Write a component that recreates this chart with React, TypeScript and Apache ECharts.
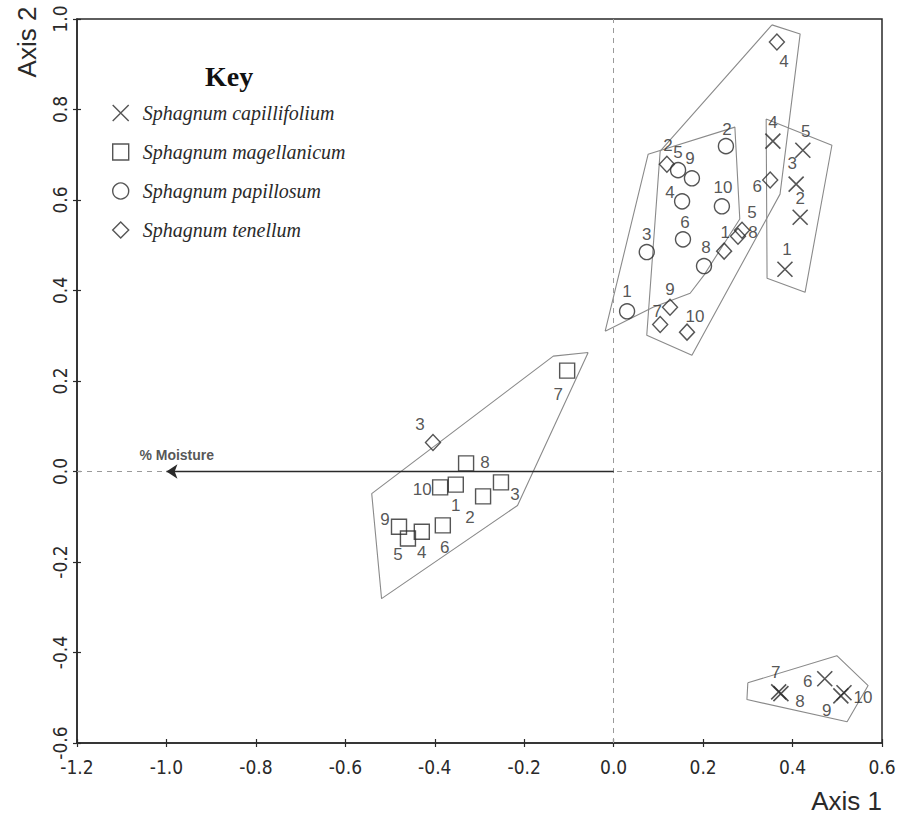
import React, { useEffect, useRef } from "react";
import * as echarts from "echarts";

// ---- Data ----
const xTicks = [-1.2, -1.0, -0.8, -0.6, -0.4, -0.2, 0.0, 0.2, 0.4, 0.6];
const yTicks = [-0.6, -0.4, -0.2, 0.0, 0.2, 0.4, 0.6, 0.8, 1.0];

const speciesNames = [
  "Sphagnum capillifolium",
  "Sphagnum magellanicum",
  "Sphagnum papillosum",
  "Sphagnum tenellum",
];

// Sphagnum capillifolium (×)
const capIds = [1, 2, 3, 4, 5, 6, 7, 8, 9, 10];
const capX = [0.383, 0.417, 0.408, 0.356, 0.423, 0.472, 0.369, 0.374, 0.508, 0.515];
const capY = [0.447, 0.562, 0.635, 0.73, 0.71, -0.458, -0.487, -0.491, -0.496, -0.489];

// Sphagnum magellanicum (□)
const magIds = [1, 2, 3, 4, 5, 6, 7, 8, 9, 10];
const magX = [-0.353, -0.292, -0.252, -0.429, -0.46, -0.382, -0.104, -0.33, -0.48, -0.388];
const magY = [-0.029, -0.055, -0.024, -0.133, -0.148, -0.119, 0.223, 0.018, -0.122, -0.035];

// Sphagnum papillosum (○)
const papIds = [1, 2, 3, 4, 5, 6, 8, 9, 10];
const papX = [0.03, 0.251, 0.074, 0.153, 0.144, 0.155, 0.202, 0.175, 0.242];
const papY = [0.354, 0.719, 0.485, 0.597, 0.666, 0.513, 0.454, 0.648, 0.586];

// Sphagnum tenellum (◇)
const tenIds = [1, 2, 3, 4, 5, 6, 7, 8, 9, 10];
const tenX = [0.247, 0.119, -0.404, 0.365, 0.287, 0.35, 0.104, 0.278, 0.126, 0.164];
const tenY = [0.487, 0.679, 0.064, 0.949, 0.533, 0.644, 0.325, 0.52, 0.363, 0.308];

// Hand-drawn group envelopes (vertices, data units)
const hullCapUpper = [[0.341, 0.779], [0.488, 0.721], [0.428, 0.396], [0.343, 0.427]];
const hullCapLower = [[0.3, -0.467], [0.499, -0.407], [0.569, -0.473], [0.522, -0.553], [0.298, -0.504]];
const hullMag = [[-0.057, 0.263], [-0.135, 0.255], [-0.541, -0.049], [-0.519, -0.281], [-0.215, -0.075]];
const hullPap = [[-0.019, 0.31], [0.077, 0.701], [0.271, 0.761], [0.282, 0.558], [0.202, 0.434], [0.171, 0.394], [0.088, 0.363]];
const hullTen = [[0.354, 0.987], [0.417, 0.967], [0.372, 0.613], [0.175, 0.257], [0.074, 0.301], [0.104, 0.708]];

// Moisture vector (from origin)
const moistureVector = [[0, 0], [-1.0, 0]];
const moistureLabel = "% Moisture";

// ---- Label placement (pixel offsets of the number labels) ----
const capLabelOffset = [[2, -20], [0, -19], [-4, -21], [0, -19], [3, -19], [-17, 3], [-3, -19], [19, 8], [-14, 15], [19, 5]];
const magLabelOffset = [[0, 21], [-13, 21], [14, 12], [0, 21], [-10, 16], [2, 22], [-9, 24], [19, -1], [-14, -7], [-18, 2]];
const papLabelOffset = [[0, -20], [1, -17], [0, -18], [-12, -9], [0, -18], [2, -17], [2, -19], [-2, -20], [1, -19]];
const tenLabelOffset = [[1, -19], [1, -19], [-13, -18], [7, 19], [10, -18], [-13, 6], [-3, -13], [15, -4], [0, -18], [8, -16]];

const INK = "#2a2a2a";
const HULL = "#8a8a8a";
const SANS = "'Liberation Sans', Arial, Helvetica, sans-serif";
const NARROW = "'Liberation Sans Narrow', 'DejaVu Sans Condensed', 'Liberation Sans', sans-serif";
const SERIF = "'Liberation Serif', 'Times New Roman', serif";

function pts(ids: number[], xs: number[], ys: number[], offs: number[][]) {
  return xs.map((x, i) => ({
    name: String(ids[i]),
    value: [x, ys[i]],
    label: { offset: offs[i] },
  }));
}

function closed(poly: number[][]) {
  return [...poly, poly[0]];
}

export default function App() {
  const ref = useRef<HTMLDivElement>(null);

  useEffect(() => {
    if (!ref.current) return;
    const chart = echarts.init(ref.current, undefined, { renderer: "svg" });

    const pointLabel = {
      show: true,
      position: "inside",
      formatter: "{b}",
      color: INK,
      fontSize: 17,
      fontFamily: SANS,
    };
    const hollow = { color: "rgba(0,0,0,0)", borderColor: INK, borderWidth: 1.4 };

    const hullSeries = (name: string, poly: number[][]) => ({
      name,
      type: "line",
      data: closed(poly),
      symbol: "none",
      silent: true,
      z: 1,
      lineStyle: { color: HULL, width: 1.1 },
    });

    const axisCommon = {
      type: "value",
      splitLine: { show: false },
    };

    const option: any = {
      animation: false,
      backgroundColor: "#ffffff",
      grid: {
        left: 77,
        top: 19,
        width: 805,
        height: 724,
        show: true,
        borderColor: INK,
        borderWidth: 1.5,
        backgroundColor: "rgba(0,0,0,0)",
      },
      xAxis: [
        {
          ...axisCommon,
          min: xTicks[0],
          max: xTicks[xTicks.length - 1],
          interval: 0.2,
          position: "bottom",
          axisLine: { show: true, onZero: false, lineStyle: { color: INK, width: 1.5 } },
          axisTick: { show: true, length: 4, lineStyle: { color: INK, width: 1.2 } },
          axisLabel: {
            margin: 14,
            color: INK,
            fontSize: 19,
            fontFamily: NARROW,
            formatter: (v: number) => v.toFixed(1),
          },
        },
        {
          ...axisCommon,
          min: xTicks[0],
          max: xTicks[xTicks.length - 1],
          interval: 0.2,
          position: "bottom",
          axisLine: { show: false, onZero: false },
          axisTick: { show: true, inside: true, length: 4, lineStyle: { color: INK, width: 1.2 } },
          axisLabel: { show: false },
        },
      ],
      yAxis: [
        {
          ...axisCommon,
          min: yTicks[0],
          max: yTicks[yTicks.length - 1],
          interval: 0.2,
          position: "left",
          axisLine: { show: true, onZero: false, lineStyle: { color: INK, width: 1.5 } },
          axisTick: { show: true, length: 4, lineStyle: { color: INK, width: 1.2 } },
          axisLabel: {
            rotate: 90,
            margin: 8,
            color: INK,
            fontSize: 19,
            fontFamily: NARROW,
            formatter: (v: number) => v.toFixed(1),
          },
        },
        {
          ...axisCommon,
          min: yTicks[0],
          max: yTicks[yTicks.length - 1],
          interval: 0.2,
          position: "left",
          axisLine: { show: false, onZero: false },
          axisTick: { show: true, inside: true, length: 4, lineStyle: { color: INK, width: 1.2 } },
          axisLabel: { show: false },
        },
      ],
      legend: {
        orient: "vertical",
        left: 107,
        top: 98,
        itemWidth: 16,
        itemHeight: 16,
        itemGap: 19,
        selectedMode: false,
        data: speciesNames,
        itemStyle: { borderWidth: 1.4 },
        textStyle: {
          fontFamily: SERIF,
          fontStyle: "italic",
          fontSize: 20,
          lineHeight: 20,
          color: INK,
          padding: [0, 0, 0, 9],
        },
      },
      graphic: [
        {
          type: "text",
          left: 205,
          top: 62,
          style: { text: "Key", font: `bold 28px ${SERIF}`, fill: "#111" },
        },
        {
          type: "text",
          x: 882,
          y: 801,
          style: { text: "Axis 1", font: `26px ${SANS}`, fill: INK, align: "right", verticalAlign: "middle" },
        },
        {
          type: "text",
          x: 27,
          y: 42,
          rotation: Math.PI / 2,
          style: { text: "Axis 2", font: `26px ${SANS}`, fill: INK, align: "center", verticalAlign: "middle" },
        },
      ],
      series: [
        hullSeries("hullCapUpper", hullCapUpper),
        hullSeries("hullCapLower", hullCapLower),
        hullSeries("hullMag", hullMag),
        hullSeries("hullPap", hullPap),
        hullSeries("hullTen", hullTen),
        {
          name: "zeroLines",
          type: "scatter",
          data: [],
          silent: true,
          markLine: {
            silent: true,
            symbol: "none",
            label: { show: false },
            lineStyle: { type: [5, 5], color: "#9a9a9a", width: 1 },
            data: [{ xAxis: 0 }, { yAxis: 0 }],
          },
        },
        {
          name: "moisture",
          type: "scatter",
          data: [[-0.977, 0]],
          symbolSize: 0,
          silent: true,
          z: 3,
          itemStyle: { color: INK },
          label: {
            show: true,
            position: "top",
            distance: 10,
            formatter: moistureLabel,
            color: INK,
            fontSize: 14,
            fontWeight: "bold",
            fontFamily: SANS,
          },
          markLine: {
            silent: true,
            symbol: ["none", "arrow"],
            symbolSize: 11,
            label: { show: false },
            itemStyle: { color: INK },
            lineStyle: { type: "solid", color: INK, width: 1.3 },
            data: [[{ coord: moistureVector[0] }, { coord: moistureVector[1] }]],
          },
        },
        {
          name: speciesNames[0],
          type: "scatter",
          symbol: "path://M0,0L10,10M10,0L0,10",
          symbolSize: 15,
          z: 5,
          itemStyle: { ...hollow, borderWidth: 1.6 },
          label: pointLabel,
          data: pts(capIds, capX, capY, capLabelOffset),
        },
        {
          name: speciesNames[1],
          type: "scatter",
          symbol: "rect",
          symbolSize: 15,
          z: 5,
          itemStyle: hollow,
          label: pointLabel,
          data: pts(magIds, magX, magY, magLabelOffset),
        },
        {
          name: speciesNames[2],
          type: "scatter",
          symbol: "circle",
          symbolSize: 15,
          z: 5,
          itemStyle: hollow,
          label: pointLabel,
          data: pts(papIds, papX, papY, papLabelOffset),
        },
        {
          name: speciesNames[3],
          type: "scatter",
          symbol: "diamond",
          symbolSize: [15, 16],
          z: 5,
          itemStyle: hollow,
          label: pointLabel,
          data: pts(tenIds, tenX, tenY, tenLabelOffset),
        },
      ],
    };

    chart.setOption(option);
    return () => chart.dispose();
  }, []);

  return (
    <div
      ref={ref}
      style={{ position: "absolute", left: 0, top: 0, width: 900, height: 817, background: "#fff" }}
    />
  );
}
